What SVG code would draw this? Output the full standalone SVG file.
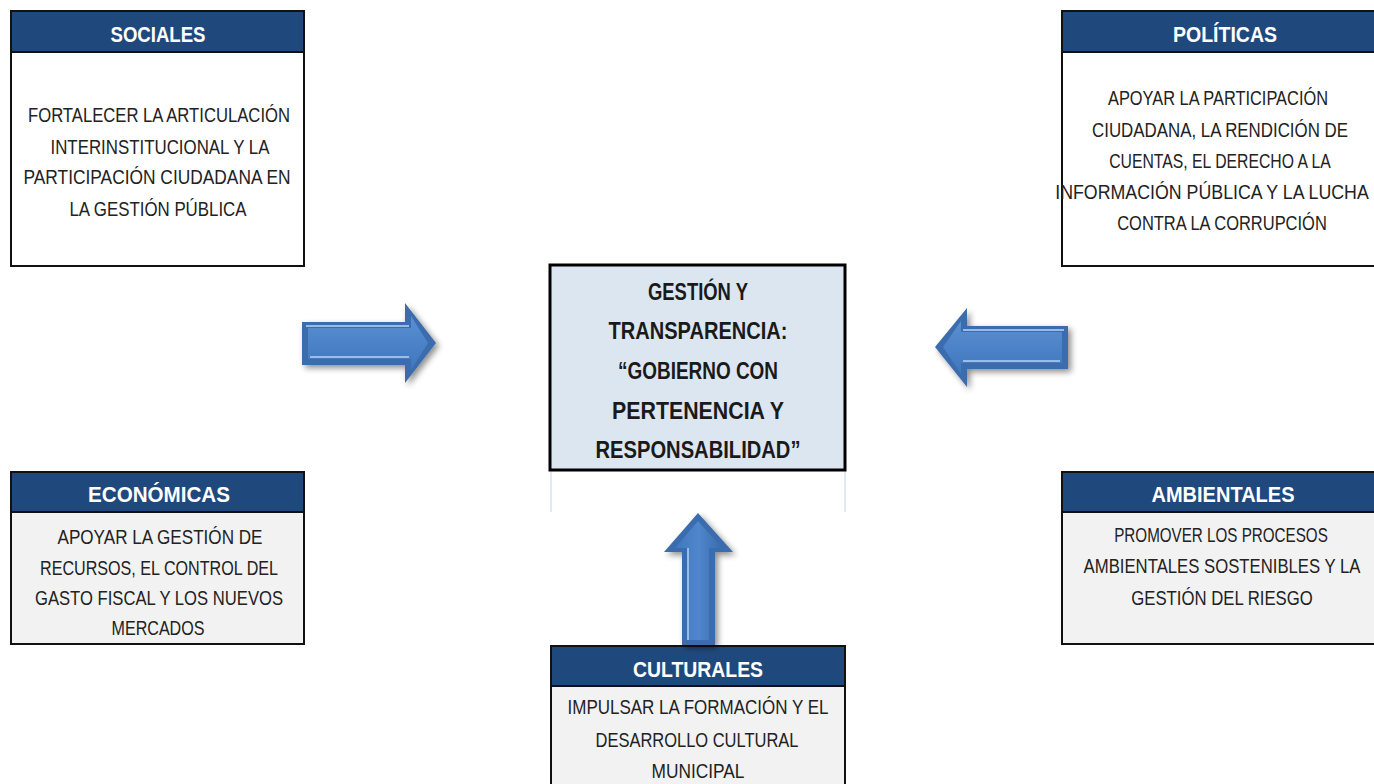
<svg xmlns="http://www.w3.org/2000/svg" width="1374" height="784" viewBox="0 0 1374 784">
<style>
.hdr{fill:#1f497d;stroke:#111;stroke-width:2}
.hdrf{fill:#1f497d}
.bodyw{fill:#fff;stroke:#111;stroke-width:2}
.bodyg{fill:#f2f2f2;stroke:#111;stroke-width:2}
.bl{stroke:#111;stroke-width:2;fill:none}
.ht{font-family:"Liberation Sans",Arial,sans-serif;font-weight:bold;font-size:22px;fill:#fff;text-anchor:middle}
.bt{font-family:"Liberation Sans",Arial,sans-serif;font-size:21px;fill:#222;text-anchor:middle}
.ct{font-family:"Liberation Sans",Arial,sans-serif;font-weight:bold;font-size:23px;fill:#1a1a1a;text-anchor:middle}
.edge{fill:#3a6cad;filter:url(#sh)}
.face{fill:url(#ag)}
.facev{fill:url(#agv)}
.hl{fill:none;stroke:#a9c8ee;stroke-width:2;opacity:.85}
</style>
<defs>
<linearGradient id="ag" x1="0" y1="0" x2="0" y2="1">
<stop offset="0" stop-color="#5a8fd2"/>
<stop offset="1" stop-color="#3f76bd"/>
</linearGradient>
<linearGradient id="agv" x1="0" y1="0" x2="1" y2="0">
<stop offset="0" stop-color="#3f76bd"/>
<stop offset="0.5" stop-color="#4f86cc"/>
<stop offset="1" stop-color="#3a6cad"/>
</linearGradient>
<filter id="sh" x="-20%" y="-20%" width="150%" height="150%">
<feGaussianBlur in="SourceAlpha" stdDeviation="3"/>
<feOffset dx="3" dy="3" result="b"/>
<feComponentTransfer><feFuncA type="linear" slope="0.45"/></feComponentTransfer>
<feMerge><feMergeNode/><feMergeNode in="SourceGraphic"/></feMerge>
</filter>
</defs>
<rect width="1374" height="784" fill="#fff"/>

<g id="sociales">
<rect class="bodyw" x="11" y="11" width="293" height="255"/>
<rect class="hdr" x="11" y="11" width="293" height="41"/>
<text class="ht" x="158" y="42" textLength="95" lengthAdjust="spacingAndGlyphs">SOCIALES</text>
<text class="bt" x="159" y="122" textLength="262" lengthAdjust="spacingAndGlyphs">FORTALECER LA ARTICULACIÓN</text>
<text class="bt" x="160" y="154" textLength="219" lengthAdjust="spacingAndGlyphs">INTERINSTITUCIONAL Y LA</text>
<text class="bt" x="157" y="184" textLength="267" lengthAdjust="spacingAndGlyphs">PARTICIPACIÓN CIUDADANA EN</text>
<text class="bt" x="158" y="216" textLength="177" lengthAdjust="spacingAndGlyphs">LA GESTIÓN PÚBLICA</text>
</g>

<g id="politicas">
<rect x="1062" y="11" width="312" height="255" fill="#fff"/>
<rect class="hdrf" x="1062" y="11" width="312" height="41"/>
<path class="bl" d="M1374,11 H1062 V266 H1374 M1062,52 H1374"/>
<text class="ht" x="1225" y="42" textLength="104" lengthAdjust="spacingAndGlyphs">POLÍTICAS</text>
<text class="bt" transform="translate(1218 105) scale(0.8 1)" textLength="275" lengthAdjust="spacingAndGlyphs">APOYAR LA PARTICIPACIÓN</text>
<text class="bt" transform="translate(1220 137) scale(0.8 1)" textLength="320" lengthAdjust="spacingAndGlyphs">CIUDADANA, LA RENDICIÓN DE</text>
<text class="bt" transform="translate(1220 168) scale(0.8 1)" textLength="277" lengthAdjust="spacingAndGlyphs">CUENTAS, EL DERECHO A LA</text>
<text class="bt" transform="translate(1212 199) scale(0.8 1)" textLength="392" lengthAdjust="spacingAndGlyphs">INFORMACIÓN PÚBLICA Y LA LUCHA</text>
<text class="bt" transform="translate(1222 230) scale(0.8 1)" textLength="262" lengthAdjust="spacingAndGlyphs">CONTRA LA CORRUPCIÓN</text>
</g>

<g id="economicas">
<rect class="bodyg" x="11" y="472" width="293" height="172"/>
<rect class="hdr" x="11" y="472" width="293" height="40"/>
<text class="ht" x="159" y="502" textLength="142" lengthAdjust="spacingAndGlyphs">ECONÓMICAS</text>
<text class="bt" x="160" y="544" textLength="205" lengthAdjust="spacingAndGlyphs">APOYAR LA GESTIÓN DE</text>
<text class="bt" x="159" y="575" textLength="238" lengthAdjust="spacingAndGlyphs">RECURSOS, EL CONTROL DEL</text>
<text class="bt" x="159" y="605" textLength="248" lengthAdjust="spacingAndGlyphs">GASTO FISCAL Y LOS NUEVOS</text>
<text class="bt" x="158" y="635" textLength="93" lengthAdjust="spacingAndGlyphs">MERCADOS</text>
</g>

<g id="ambientales">
<rect x="1062" y="472" width="312" height="172" fill="#f2f2f2"/>
<rect class="hdrf" x="1062" y="472" width="312" height="40"/>
<path class="bl" d="M1374,472 H1062 V644 H1374 M1062,512 H1374"/>
<text class="ht" x="1223" y="502" textLength="143" lengthAdjust="spacingAndGlyphs">AMBIENTALES</text>
<text class="bt" transform="translate(1221 542) scale(0.8 1)" textLength="267" lengthAdjust="spacingAndGlyphs">PROMOVER LOS PROCESOS</text>
<text class="bt" transform="translate(1222 573) scale(0.8 1)" textLength="346" lengthAdjust="spacingAndGlyphs">AMBIENTALES SOSTENIBLES Y LA</text>
<text class="bt" transform="translate(1222 605) scale(0.8 1)" textLength="227" lengthAdjust="spacingAndGlyphs">GESTIÓN DEL RIESGO</text>
</g>

<g id="centro">
<line x1="551" y1="471" x2="551" y2="512" stroke="#c5d3e8" stroke-width="1"/>
<line x1="845" y1="471" x2="845" y2="512" stroke="#c5d3e8" stroke-width="1"/>
<rect x="550" y="265" width="295" height="205" fill="#dce6f1" stroke="#000" stroke-width="3"/>
<text class="ct" x="698" y="300" textLength="100" lengthAdjust="spacingAndGlyphs">GESTIÓN Y</text>
<text class="ct" x="698" y="339" textLength="179" lengthAdjust="spacingAndGlyphs">TRANSPARENCIA:</text>
<text class="ct" x="698" y="379" textLength="160" lengthAdjust="spacingAndGlyphs">“GOBIERNO CON</text>
<text class="ct" x="698" y="419" textLength="172" lengthAdjust="spacingAndGlyphs">PERTENENCIA Y</text>
<text class="ct" x="698" y="458" textLength="205" lengthAdjust="spacingAndGlyphs">RESPONSABILIDAD”</text>
</g>

<g id="culturales">
<rect class="bodyg" x="551" y="646" width="294" height="150"/>
<rect class="hdr" x="551" y="646" width="294" height="40"/>
<text class="ht" x="698" y="677" textLength="130" lengthAdjust="spacingAndGlyphs">CULTURALES</text>
<text class="bt" x="698" y="714" textLength="261" lengthAdjust="spacingAndGlyphs">IMPULSAR LA FORMACIÓN Y EL</text>
<text class="bt" x="697" y="747" textLength="203" lengthAdjust="spacingAndGlyphs">DESARROLLO CULTURAL</text>
<text class="bt" x="698" y="778" textLength="93" lengthAdjust="spacingAndGlyphs">MUNICIPAL</text>
</g>

<g id="connectors">
<g id="arrow-right">
<polygon class="edge" points="302,322 405,322 405,303 436,343 405,383 405,365 302,365"/>
<polygon class="face" points="308,328 411,328 411,316 428,343 411,370 411,359 308,359"/>
<line class="hl" x1="306" y1="326" x2="409" y2="326"/>
<line class="hl" x1="310" y1="357" x2="409" y2="357"/>
</g>
<g id="arrow-left">
<polygon class="edge" points="1068,326 967,326 967,308 935,347 967,387 967,369 1068,369"/>
<polygon class="face" points="1062,332 961,332 961,321 943,347 961,374 961,363 1062,363"/>
<line class="hl" x1="1064" y1="330" x2="963" y2="330"/>
<line class="hl" x1="1060" y1="361" x2="963" y2="361"/>
</g>
<g id="arrow-up">
<polygon class="edge" points="698,513 733,552 715,552 715,645 682,645 682,552 664,552"/>
<polygon class="facev" points="698,521 722,548 709,548 709,640 688,640 688,548 675,548"/>
<line class="hl" x1="688" y1="640" x2="688" y2="548" opacity=".5"/>
</g>
</g>
</svg>
